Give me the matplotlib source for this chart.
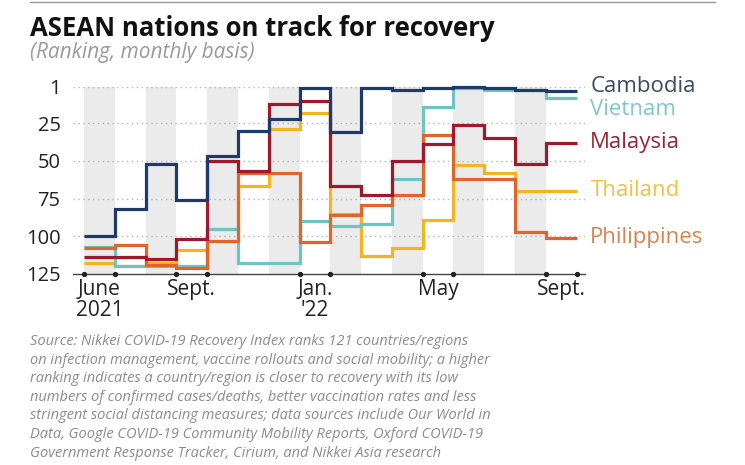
import numpy as np
import matplotlib
matplotlib.use("Agg")
import matplotlib.pyplot as plt

plt.rcParams["font.family"] = ["Open Sans", "DejaVu Sans"]

# monthly ranking, June 2021 .. Sept 2022 (16 months)
months = ["Jun", "Jul", "Aug", "Sep", "Oct", "Nov", "Dec", "Jan",
          "Feb", "Mar", "Apr", "May", "Jun", "Jul", "Aug", "Sep"]
cambodia = [100, 82, 52, 76, 47, 30, 22, 2, 31, 2, 3, 2, 1, 2, 3, 4]
vietnam = [107, 120, 120, 120, 95, 118, 118, 90, 93, 92, 62, 14, 2, 3, 3, 8]
malaysia = [114, 114, 115, 102, 50, 57, 12, 10, 67, 73, 50, 39, 26, 35, 52, 38]
thailand = [118, 120, 118, 109, 95, 67, 29, 18, 85, 113, 108, 89, 53, 58, 70, 70]
philippines = [108, 106, 119, 121, 103, 58, 58, 104, 86, 79, 73, 33, 62, 62, 97, 101]

yticks = [1, 25, 50, 75, 100, 125]
month_labels = {0: "June\n2021", 3: "Sept.", 7: "Jan.\n'22", 11: "May", 15: "Sept."}

# draw order: bottom to top
series = [
    ("Thailand", thailand, "#f2b51f", "#f0c240"),
    ("Vietnam", vietnam, "#6ec3c3", "#7ec8cb"),
    ("Philippines", philippines, "#e0652a", "#d9834f"),
    ("Malaysia", malaysia, "#a0182c", "#9c2335"),
    ("Cambodia", cambodia, "#1d3a6b", "#3a4a66"),
]

fig = plt.figure(figsize=(7.45, 4.65), dpi=100)
ax = fig.add_axes([0.098, 0.411, 0.687, 0.402])

n = len(months)
edges = np.arange(n + 1)

# alternate month shading
for k in range(0, n, 2):
    ax.axvspan(k, k + 1, color="#ebebeb", lw=0, zorder=0)

for y in yticks[:-1]:
    ax.axhline(y, color="#b5b5b5", lw=1, ls=(0, (1, 2.5)), zorder=1)

for name, vals, col, tcol in series:
    ax.stairs(vals, edges, baseline=None, color=col, lw=2.3,
              zorder=3, clip_on=False)

ax.set_xlim(-0.36, n + 0.27)
ax.set_ylim(125, 1)

ax.set_yticks(yticks)
ax.set_yticklabels([str(v) for v in yticks], fontsize=14.5, color="#222222")
ax.tick_params(axis="y", length=0, pad=9)

# tick dots at the edges of labelled months, labels centred in the month
tick_edges = sorted({e for k in month_labels for e in (k, k + 1)})
ax.set_xticks(tick_edges)
ax.set_xticklabels([])
ax.tick_params(axis="x", which="major", length=0)
ax.plot(tick_edges, [125] * len(tick_edges), "o", ms=2.8, color="#222222",
        clip_on=False, zorder=5)
ax.set_xticks([k + 0.5 for k in month_labels], minor=True)
ax.set_xticklabels(list(month_labels.values()), minor=True, fontsize=15,
                   color="#222222", linespacing=1.0, va="top")
ax.tick_params(axis="x", which="minor", length=0, pad=4)

for s in ["top", "right", "left"]:
    ax.spines[s].set_visible(False)
ax.spines["bottom"].set_color("#444444")
ax.spines["bottom"].set_linewidth(1)
ax.spines["bottom"].set_zorder(4)

# right-side labels
label_y = {"Cambodia": 1, "Vietnam": 16, "Malaysia": 38, "Thailand": 70,
           "Philippines": 101}
for name, vals, col, tcol in series:
    ax.text(n + 0.45, label_y[name], name, color=tcol, fontsize=16,
            va="center", ha="left", clip_on=False)

# top rule, title, subtitle
fig.add_artist(plt.Line2D([0.04, 0.96], [0.995, 0.995], color="#999999", lw=1))
fig.text(0.04, 0.938, "ASEAN nations on track for recovery", fontsize=18.5,
         fontweight="bold", color="#111111", va="center", ha="left")
fig.text(0.04, 0.888, "(Ranking, monthly basis)", fontsize=15, style="italic",
         color="#9a9a9a", va="center", ha="left")

source = ("Source: Nikkei COVID-19 Recovery Index ranks 121 countries/regions\n"
          "on infection management, vaccine rollouts and social mobility; a higher\n"
          "ranking indicates a country/region is closer to recovery with its low\n"
          "numbers of confirmed cases/deaths, better vaccination rates and less\n"
          "stringent social distancing measures; data sources include Our World in\n"
          "Data, Google COVID-19 Community Mobility Reports, Oxford COVID-19\n"
          "Government Response Tracker, Cirium, and Nikkei Asia research")
fig.text(0.04, 0.282, source, fontsize=10.5, style="italic", color="#8c8c8c",
         va="top", ha="left", linespacing=1.33)

fig.savefig("out.png", dpi=100, facecolor="white")
